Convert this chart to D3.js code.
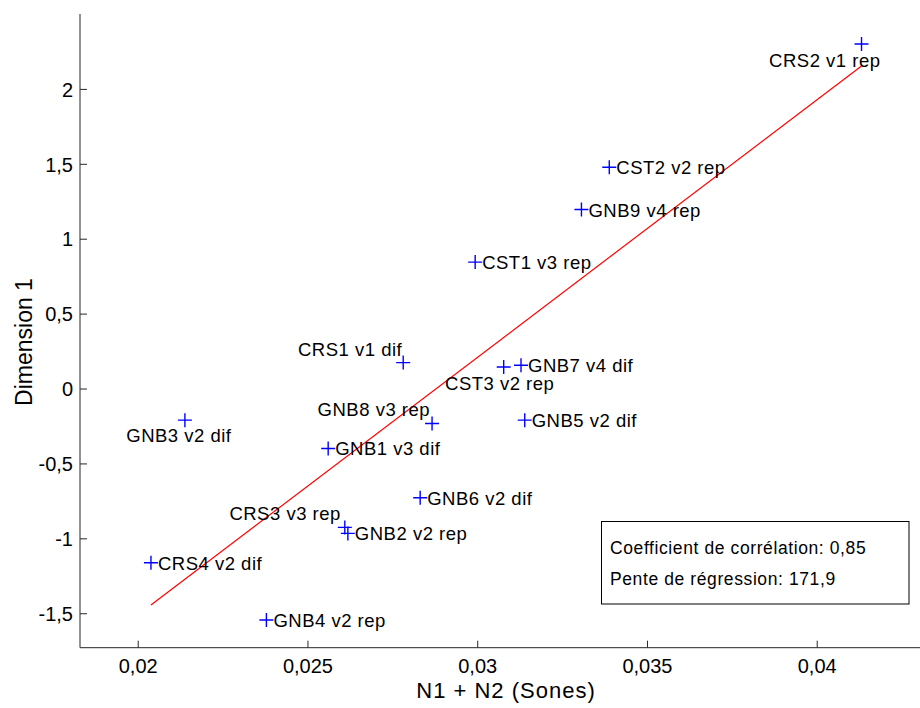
<!DOCTYPE html>
<html>
<head>
<meta charset="utf-8">
<script src="https://cdn.jsdelivr.net/npm/d3@7"></script>
<style>
  html, body { margin: 0; padding: 0; background: #fff; }
  svg { display: block; font-family: "Liberation Sans", Arial, Helvetica, sans-serif; }
</style>
</head>
<body>
<svg id="chart" width="920" height="708"></svg>
<script>
// ---- data ----
const names = ["CRS2 v1 rep","CST2 v2 rep","GNB9 v4 rep","CST1 v3 rep","CRS1 v1 dif","CST3 v2 rep",
  "GNB7 v4 dif","GNB8 v3 rep","GNB5 v2 dif","GNB1 v3 dif","GNB3 v2 dif","GNB6 v2 dif",
  "CRS3 v3 rep","GNB2 v2 rep","CRS4 v2 dif","GNB4 v2 rep"];
const loudness = [0.04132,0.03389,0.03307,0.02994,0.02782,0.03078,
  0.03129,0.02867,0.03140,0.02561,0.02139,0.02832,
  0.02610,0.02619,0.02039,0.02379];
const dimension1 = [2.30,1.477,1.195,0.844,0.173,0.144,
  0.155,-0.233,-0.211,-0.400,-0.211,-0.729,
  -0.927,-0.967,-1.163,-1.545];
const xTicks = [0.02,0.025,0.03,0.035,0.04];
const xTickLabels = ["0,02","0,025","0,03","0,035","0,04"];
const yTicks = [-1.5,-1,-0.5,0,0.5,1,1.5,2];
const yTickLabels = ["-1,5","-1","-0,5","0","0,5","1","1,5","2"];
const regSlope = 171.9;
const regIntercept = -4.950;
const statsLines = ["Coefficient de corrélation: 0,85","Pente de régression: 171,9"];
const xTitle = "N1 + N2 (Sones)";
const yTitle = "Dimension 1";

// ---- label placement (layout, not data) ----
const R = {dx: 7, dy: 7, a: "start"};
const placement = {
  "CRS2 v1 rep": {dx: 19, dy: 23, a: "end"},
  "CST3 v2 rep": {dx: -4, dy: 23, a: "middle"},
  "GNB3 v2 dif": {dx: -6, dy: 22, a: "middle"},
  "CRS1 v1 dif": {dx: -1, dy: -7, a: "end"},
  "GNB8 v3 rep": {dx: -2, dy: -7, a: "end"},
  "CRS3 v3 rep": {dx: -4, dy: -7, a: "end"}
};

const svg = d3.select("#chart");
const x0 = 80, yTop = 14, yBot = 647.7;
const x = d3.scaleLinear().domain([0.0183, 0.0435]).range([x0, x0 + (0.0435 - 0.0183) * 33950]);
const y = d3.scaleLinear().domain([-1.73, 2.5]).range([yBot, yTop]);

const axisColor = "#262626";

// axes
const gx = svg.append("g").attr("transform", `translate(0,${yBot})`)
  .call(d3.axisTop(x).tickValues(xTicks).tickSize(7).tickFormat((d, i) => xTickLabels[i]));
gx.select(".domain").remove();
gx.selectAll(".tick line").attr("stroke", axisColor);
gx.selectAll(".tick text").attr("y", 25).attr("dy", 0).attr("font-size", 20)
  .attr("fill", "#000").attr("font-family", "Liberation Sans, Arial, sans-serif");

const gy = svg.append("g").attr("transform", `translate(${x0},0)`)
  .call(d3.axisRight(y).tickValues(yTicks).tickSize(7).tickFormat((d, i) => yTickLabels[i]));
gy.select(".domain").remove();
gy.selectAll(".tick line").attr("stroke", axisColor);
gy.selectAll(".tick text").attr("x", -7).attr("dy", "0.36em").attr("text-anchor", "end")
  .attr("font-size", 20).attr("fill", "#000").attr("font-family", "Liberation Sans, Arial, sans-serif");

svg.append("line").attr("x1", x0).attr("x2", 920).attr("y1", yBot).attr("y2", yBot)
  .attr("stroke", axisColor).attr("stroke-width", 1);
svg.append("line").attr("x1", x0).attr("x2", x0).attr("y1", yTop).attr("y2", yBot)
  .attr("stroke", axisColor).attr("stroke-width", 1);

// regression line
const xMin = d3.min(loudness), xMax = d3.max(loudness);
svg.append("line")
  .attr("x1", x(xMin)).attr("y1", y(regSlope * xMin + regIntercept))
  .attr("x2", x(xMax)).attr("y2", y(regSlope * xMax + regIntercept))
  .attr("stroke", "#ff0000").attr("stroke-width", 1.2);

// points
const pts = names.map((n, i) => ({name: n, x: loudness[i], y: dimension1[i]}));
svg.append("g").selectAll("path").data(pts).join("path")
  .attr("d", d => `M${x(d.x) - 7},${y(d.y)}H${x(d.x) + 7}M${x(d.x)},${y(d.y) - 7}V${y(d.y) + 7}`)
  .attr("stroke", "#0000ff").attr("stroke-width", 1.4).attr("fill", "none");

svg.append("g").selectAll("text").data(pts).join("text")
  .attr("x", d => x(d.x) + (placement[d.name] || R).dx)
  .attr("y", d => y(d.y) + (placement[d.name] || R).dy)
  .attr("text-anchor", d => (placement[d.name] || R).a)
  .attr("font-size", 18.5).attr("letter-spacing", 0.5)
  .attr("fill", "#000")
  .text(d => d.name);

// stats box
svg.append("rect").attr("x", 601.5).attr("y", 521.5).attr("width", 307.5).attr("height", 82.5)
  .attr("fill", "#fff").attr("stroke", "#000").attr("stroke-width", 1);
svg.append("g").selectAll("text").data(statsLines).join("text")
  .attr("x", 610).attr("y", (d, i) => 554 + i * 31)
  .attr("font-size", 17.5).attr("letter-spacing", 0.6).attr("fill", "#000")
  .text(d => d);

// axis titles
svg.append("text").attr("x", 506).attr("y", 698).attr("text-anchor", "middle")
  .attr("font-size", 22).attr("letter-spacing", 1).attr("fill", "#000").text(xTitle);
svg.append("text").attr("transform", "translate(32,342) rotate(-90)").attr("text-anchor", "middle")
  .attr("font-size", 23).attr("fill", "#000").text(yTitle);
</script>
</body>
</html>
